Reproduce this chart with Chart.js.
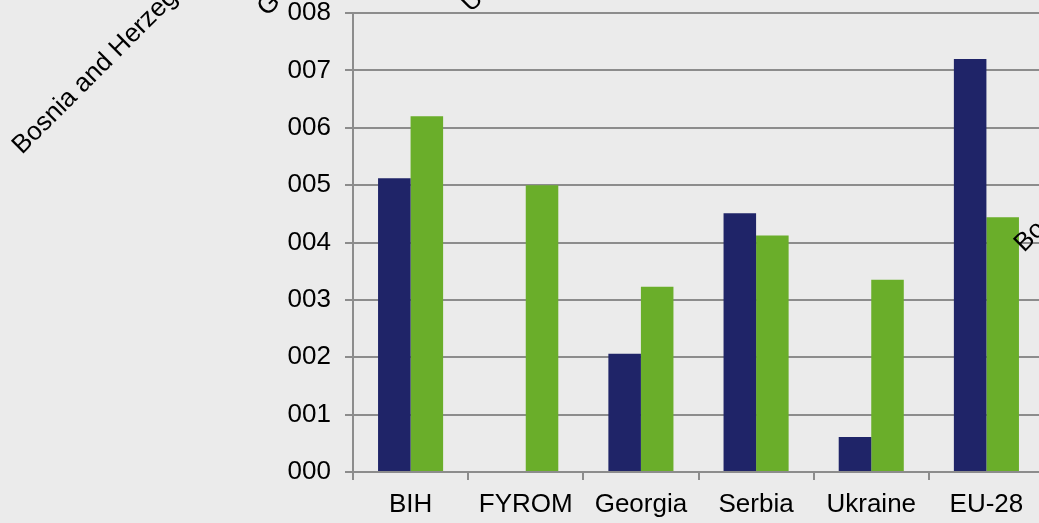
<!DOCTYPE html>
<html>
<head>
<meta charset="utf-8">
<script src="https://cdn.jsdelivr.net/npm/chart.js@4/dist/chart.umd.min.js"></script>
<style>
  html, body { margin: 0; padding: 0; background: #ebebeb; overflow: hidden; }
  #wrap { width: 1060px; height: 523px; }
</style>
</head>
<body>
<div id="wrap"><canvas id="chart"></canvas></div>
<script>
const categories = ['BIH', 'FYROM', 'Georgia', 'Serbia', 'Ukraine', 'EU-28'];
const seriesA = [5.12, 0, 2.06, 4.51, 0.61, 7.20];
const seriesB = [6.20, 5.00, 3.23, 4.12, 3.35, 4.44];
const yTicks = [0, 1, 2, 3, 4, 5, 6, 7, 8];

const FONT = 'Liberation Sans, Arial, sans-serif';
const GRID = '#8c8c8c';

// stray rotated labels that overlap the picture
const strayLabels = [
  { text: 'Bosnia and Herzegovina', x: 22, y: 155 },
  { text: 'Georgia', x: 267, y: 17 },
  { text: 'Ukraine', x: 471, y: 13 },
  { text: 'Bosnia and Herzegovina', x: 1024, y: 253 }
];

const strayPlugin = {
  id: 'stray',
  afterDraw(chart) {
    const ctx = chart.ctx;
    ctx.save();
    ctx.font = '26px ' + FONT;
    ctx.fillStyle = '#000';
    ctx.textBaseline = 'alphabetic';
    strayLabels.forEach(l => {
      ctx.save();
      ctx.translate(l.x, l.y);
      ctx.rotate(-Math.PI / 4);
      ctx.fillText(l.text, 0, 0);
      ctx.restore();
    });
    ctx.restore();
  }
};

new Chart(document.getElementById('chart'), {
  type: 'bar',
  data: {
    labels: categories,
    datasets: [
      { data: seriesA, backgroundColor: '#1f2468', borderWidth: 0 },
      { data: seriesB, backgroundColor: '#6aae2a', borderWidth: 0 }
    ]
  },
  plugins: [strayPlugin],
  options: {
    responsive: true,
    maintainAspectRatio: false,
    animation: false,
    layout: { padding: { top: 0, right: 16, bottom: 0, left: 0 } },
    plugins: { legend: { display: false }, tooltip: { enabled: false } },
    datasets: { bar: { barPercentage: 1, categoryPercentage: 0.565 } },
    scales: {
      x: {
        grid: { offset: true, drawOnChartArea: false, drawTicks: true, tickLength: 8, color: GRID, lineWidth: 2 },
        border: { color: GRID, width: 2 },
        ticks: { color: '#000', font: { family: FONT, size: 26 }, padding: 9, maxRotation: 0, autoSkip: false },
        afterFit(scale) { scale.height = 51; }
      },
      y: {
        min: 0,
        max: 8,
        afterBuildTicks(scale) { scale.ticks = yTicks.map(v => ({ value: v })); },
        grid: { color: GRID, lineWidth: 2, tickLength: 8 },
        border: { color: GRID, width: 2 },
        ticks: {
          color: '#000',
          font: { family: FONT, size: 26 },
          padding: 14,
          callback: v => String(v).padStart(3, '0')
        },
        afterFit(scale) {
          scale.width = 353;
          scale.paddingTop = 13;
          scale.paddingBottom = 0;
        }
      }
    }
  }
});
</script>
</body>
</html>
